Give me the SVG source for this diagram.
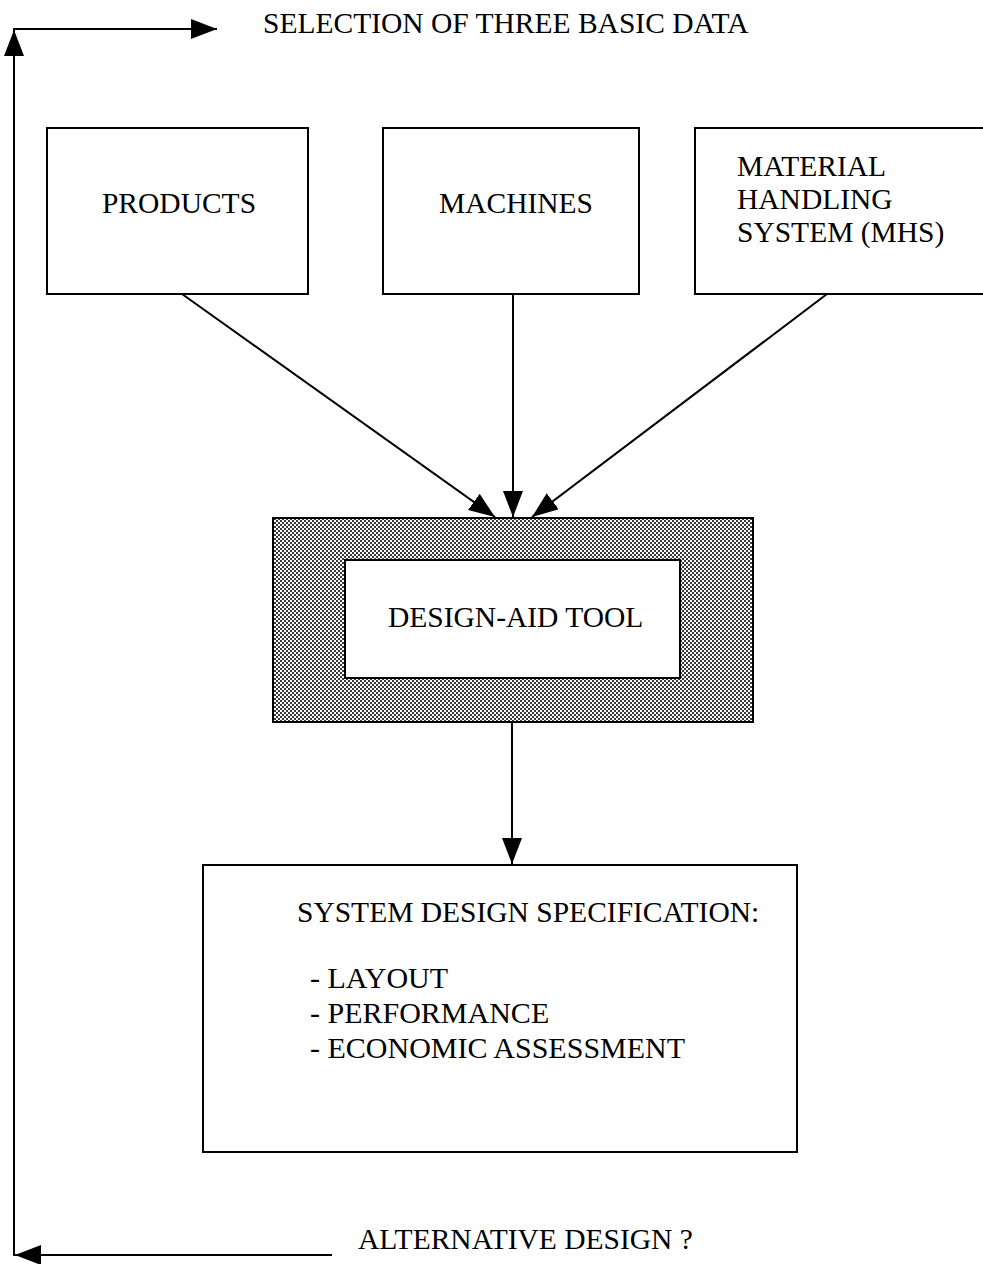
<svg xmlns="http://www.w3.org/2000/svg" width="983" height="1264" viewBox="0 0 983 1264">
  <style>
    .box { fill: #fff; stroke: #000; stroke-width: 2; }
    .lbl { font-family: "Liberation Serif", "Times New Roman", serif; font-size: 29.5px; fill: #000; }
    .item { font-size: 30px; }
    .wire { fill: none; stroke: #000; stroke-width: 2; }
  </style>
  <defs>
    <marker id="head" markerUnits="userSpaceOnUse" markerWidth="27" markerHeight="22" refX="26" refY="10" orient="auto">
      <path d="M0,0 L26,10 L0,20 Z" fill="#000"/>
    </marker>
    <!-- dithered grey screen for the tool frame -->
    <pattern id="dots" width="4" height="4" patternUnits="userSpaceOnUse">
      <rect width="4" height="4" fill="#fff"/>
      <rect width="2" height="2" fill="#3a3a3a"/>
      <rect x="2" y="2" width="2" height="2" fill="#3a3a3a"/>
    </pattern>
  </defs>

  <rect width="983" height="1264" fill="#fff"/>

  <g id="loop-top">
    <text class="lbl" x="263" y="33">SELECTION OF THREE BASIC DATA</text>
  </g>

  <g id="products">
    <rect class="box" x="47" y="128" width="261" height="166"/>
    <text class="lbl" x="179" y="213" text-anchor="middle">PRODUCTS</text>
  </g>

  <g id="machines">
    <rect class="box" x="383" y="128" width="256" height="166"/>
    <text class="lbl" x="516" y="213" text-anchor="middle">MACHINES</text>
  </g>

  <g id="mhs">
    <rect class="box" x="695" y="128" width="300" height="166"/>
    <text class="lbl" x="737" y="176">MATERIAL</text>
    <text class="lbl" x="737" y="209">HANDLING</text>
    <text class="lbl" x="737" y="242">SYSTEM (MHS)</text>
  </g>

  <g id="design-aid-tool">
    <rect x="273" y="518" width="480" height="204" fill="url(#dots)" stroke="#000" stroke-width="2"/>
    <rect class="box" x="345" y="560" width="335" height="118"/>
    <text class="lbl" x="388" y="627">DESIGN-AID TOOL</text>
  </g>

  <g id="specification">
    <rect class="box" x="203" y="865" width="594" height="287"/>
    <text class="lbl" x="297" y="922">SYSTEM DESIGN SPECIFICATION:</text>
    <text class="lbl item" x="310" y="988">- LAYOUT</text>
    <text class="lbl item" x="310" y="1023">- PERFORMANCE</text>
    <text class="lbl item" x="310" y="1058">- ECONOMIC ASSESSMENT</text>
  </g>

  <g id="loop-bottom">
    <text class="lbl" x="358" y="1249">ALTERNATIVE DESIGN ?</text>
  </g>

  <g id="connectors">
    <line class="wire" x1="182" y1="294" x2="495" y2="517" marker-end="url(#head)"/>
    <line class="wire" x1="513" y1="294" x2="513" y2="517" marker-end="url(#head)"/>
    <line class="wire" x1="827" y1="294" x2="532" y2="517" marker-end="url(#head)"/>
    <line class="wire" x1="512" y1="722" x2="512" y2="864" marker-end="url(#head)"/>
    <!-- feedback loop along the left margin -->
    <line class="wire" x1="332" y1="1255" x2="15" y2="1255" marker-end="url(#head)"/>
    <line class="wire" x1="14" y1="1256" x2="14" y2="30" marker-end="url(#head)"/>
    <line class="wire" x1="13" y1="29" x2="217" y2="29" marker-end="url(#head)"/>
  </g>
</svg>
